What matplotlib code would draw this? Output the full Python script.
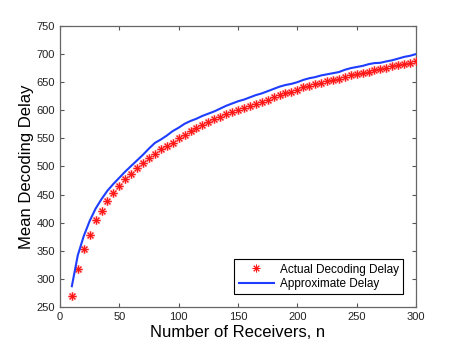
import numpy as np
import matplotlib
matplotlib.use('Agg')
from matplotlib import pyplot as plt

plt.rcParams['font.family'] = ['Liberation Sans', 'DejaVu Sans']

# 接收者数量 n
n = np.arange(10, 301, 5)

# 实际解码时延（星号）
actual_delay = [269, 318, 353, 378, 404, 421, 438, 452, 465, 478,
                487, 497, 507, 515, 523, 532, 536, 542, 551, 556,
                563, 569, 574, 579, 584, 588, 593,
                597, 601, 604, 607, 612, 615, 619, 623, 627, 630,
                633, 636, 641, 643, 647, 649, 652, 654, 656, 660,
                663, 665, 667, 669, 672, 673, 675, 678, 681, 682,
                685, 687]

# 近似时延（实线）
approx_delay = [287, 342, 376, 403, 425, 442, 457, 469, 480, 491,
                501, 511, 521, 532, 542, 548, 555, 563, 569, 576,
                581, 585, 590, 594, 598, 603, 608, 612, 616, 619,
                623, 627, 630, 634, 638, 642, 645, 647, 650, 654,
                657, 659, 662, 664, 666, 668, 672, 675, 677, 679,
                682, 684, 684.5, 687, 689, 692, 695, 697, 700]

fig = plt.figure(figsize=(4.6, 3.46), dpi=100)
ax = fig.add_axes([0.1304, 0.1127, 0.7739, 0.8122])

# 星号标记（带淡红色光晕）
ax.plot(n, actual_delay, linestyle='none', marker=(8, 2, 0), markersize=6.5,
        color='#ffbcbc', markeredgewidth=1.3, zorder=2)
ax.plot(n, actual_delay, linestyle='none', marker=(8, 2, 0), markersize=5.5,
        color='#ff1818', markeredgewidth=0.7, label='Actual Decoding Delay', zorder=3)
ax.plot(n, approx_delay, color='#1f3dff', linewidth=1.5, label='Approximate Delay', zorder=4)

ax.set_xlim(0, 300)
ax.set_ylim(250, 750)
ax.set_xticks(np.arange(0, 301, 50))
ax.set_yticks(np.arange(250, 751, 50))
ax.tick_params(direction='in', top=True, right=True, labelsize=8,
               length=3, color='#555555', labelcolor='#222222')
for s in ax.spines.values():
    s.set_color('#666666')
    s.set_linewidth(0.9)

ax.set_xlabel('Number of Receivers, n', fontsize=12, labelpad=2)
ax.set_ylabel('Mean Decoding Delay', fontsize=12, labelpad=2)

leg = ax.legend(loc='lower right', fontsize=8.5, fancybox=False, framealpha=1,
                edgecolor='black', borderaxespad=1.1, handlelength=3,
                borderpad=0.35, labelspacing=0.2, handletextpad=0.5)
leg.get_frame().set_linewidth(0.8)

plt.savefig('out.png', dpi=100)
